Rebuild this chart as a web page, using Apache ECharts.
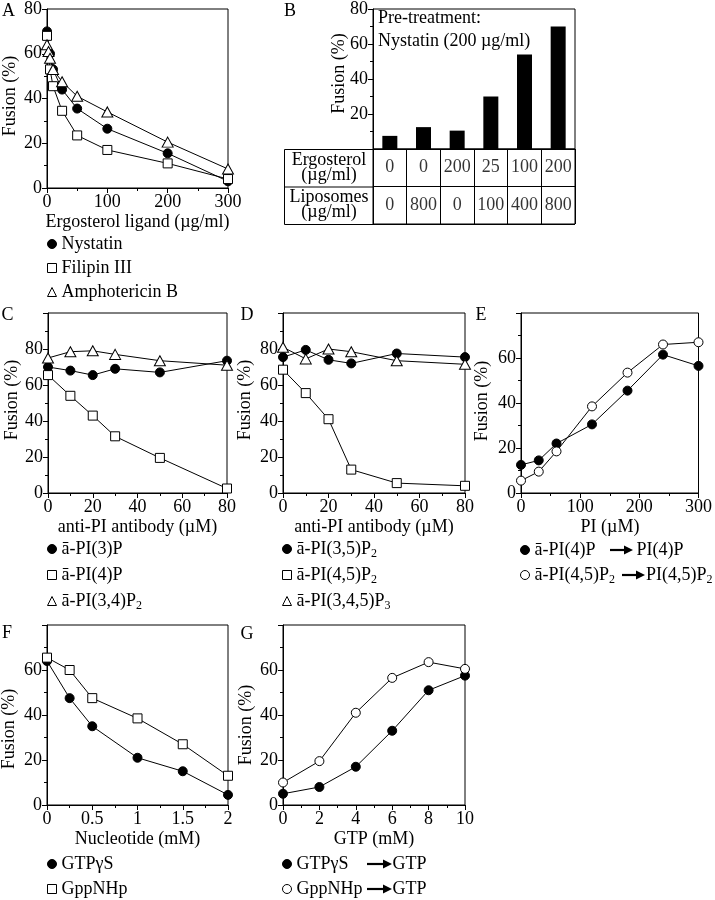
<!DOCTYPE html>
<html><head><meta charset="utf-8">
<script src="https://cdn.jsdelivr.net/npm/echarts@6/dist/echarts.min.js"></script>
<style>html,body{margin:0;padding:0;background:#fff}#c{width:715px;height:900px}</style>
</head><body><div id="c"></div>
<script>
// ---------- DATA ----------
// Panel A: [ergosterol ligand (µg/ml), fusion %]
const aNystatin = [[0,70],[5,60],[10,53],[25,44],[50,35.5],[100,26.5],[200,15.5],[300,3]];
const aFilipin  = [[0,68],[5,53],[10,45.5],[25,34.5],[50,23.5],[100,17],[200,11],[300,4]];
const aAmpho    = [[0,64],[2.5,61],[5,58],[10,53],[25,47.5],[50,41],[100,34],[200,20.5],[300,8.5]];
const aNames = ['Nystatin','Filipin III','Amphotericin B'];
// Panel B
const bFusion     = [7.5,12.5,10.5,30,54,70];
const bErgosterol = ['0','0','200','25','100','200'];
const bLiposomes  = ['0','800','0','100','400','800'];
const bRowKeys    = ['Ergosterol','Liposomes'];
const bRowHeaders = ['Ergosterol\n(µg/ml)','Liposomes\n(µg/ml)'];
const bNote       = ['Pre-treatment:','Nystatin (200 µg/ml)'];
// Panel C: [anti-PI antibody (µM), fusion %]
const cPI3P    = [[0,70],[10,68],[20,65.5],[30,69],[50,67],[80,73.5]];
const cPI4P    = [[0,65.5],[10,54],[20,43],[30,31.5],[50,19.5],[80,2.5]];
const cPI34P2  = [[0,75],[10,78.5],[20,79],[30,77],[50,73.5],[80,71]];
const cNames = ['ā-PI(3)P','ā-PI(4)P','ā-PI(3,4)P_2'];
// Panel D
const dPI35P2  = [[0,75.5],[10,79.5],[20,74],[30,72],[50,77.5],[80,75.5]];
const dPI45P2  = [[0,68.5],[10,55.5],[20,41],[30,13],[50,5.5],[80,4]];
const dPI345P3 = [[0,81],[10,74.5],[20,80],[30,78.5],[50,73.5],[80,71.5]];
const dNames = ['ā-PI(3,5)P_2','ā-PI(4,5)P_2','ā-PI(3,4,5)P_3'];
// Panel E: [PI (µM), fusion %]
const ePI4P   = [[0,12.5],[30,14.5],[60,22],[120,30.5],[180,45.5],[240,61.5],[300,56.5]];
const ePI45P2 = [[0,5.5],[30,9.5],[60,18.5],[120,38.5],[180,53.5],[240,66],[300,67]];
const eSources = ['ā-PI(4)P','ā-PI(4,5)P_2'];
const eTargets = ['PI(4)P','PI(4,5)P_2'];
// Panel F: [nucleotide (mM), fusion %]
const fGTPgS  = [[0,64],[0.25,47.5],[0.5,35],[1,21],[1.5,15],[2,4.5]];
const fGppNHp = [[0,65.5],[0.25,60],[0.5,47.5],[1,38.5],[1.5,27],[2,13]];
const fNames = ['GTPγS','GppNHp'];
// Panel G: [GTP (mM), fusion %]
const gGTPgS  = [[0,5],[2,8],[4,17],[6,33],[8,51],[10,57.5]];
const gGppNHp = [[0,10],[2,19.5],[4,41],[6,56.5],[8,63.5],[10,60.5]];
const gSources = ['GTPγS','GppNHp'];
const gTargets = ['GTP','GTP'];
// Text
const panelLetters = ['A','B','C','D','E','F','G'];
const yName = 'Fusion (%)';
const xNames = ['Ergosterol ligand (µg/ml)', null, 'anti-PI antibody (µM)', 'anti-PI antibody (µM)', 'PI (µM)', 'Nucleotide (mM)', 'GTP (mM)'];

// ---------- LAYOUT ----------
const FONT = '"Liberation Serif", "Times New Roman", serif';
const FONT18 = '18px ' + FONT;
const SEP = ' → ';
const grids = [
  {left:47, top:8, width:181, height:180},   // A
  {left:373, top:8, width:202, height:141},  // B bars
  {left:48, top:313, width:179, height:180}, // C
  {left:283, top:313, width:182, height:180},// D
  {left:521, top:313, width:178, height:180},// E
  {left:47, top:625, width:181, height:180}, // F
  {left:283, top:625, width:182, height:180},// G
  {left:373, top:149, width:202, height:75}  // B table
].map(g => Object.assign({show:true, borderColor:'#000', borderWidth:1, containLabel:false}, g));

const letterPos = [[8.5,11],[290,11],[7.5,315],[247,315],[481,315],[7,633],[247,634]];
// y-title: [distance left of axis, vertical shift from plot centre]
const yTitleOff = [[37,-2],[34,-5],[36,-3],[38,-3],[39,-2],[38,14],[37,10]];
const xTitleGap = 34;
// legend arrows: [tail x, tip x, y]
const arrowPos = [[610,633,550],[622,645,575],[367,392,864],[367,392,889]];

const TXT = {color:'#000', fontFamily:FONT, fontSize:18, fontWeight:'normal', fontStyle:'normal'};

function valueAxis(gi, min, max, interval, hide) {
  return {
    type:'value', gridIndex:gi, min, max, interval,
    axisLine:{show:true, onZero:false, lineStyle:{color:'#000', width:1}},
    axisTick:{show:true, length:5, lineStyle:{color:'#000'}},
    minorTick:{show:true, splitNumber:2, length:3, lineStyle:{color:'#000'}},
    splitLine:{show:false},
    axisLabel:Object.assign({margin:5, showMinLabel:true, showMaxLabel:true,
      formatter: v => (hide !== undefined && v === hide) ? '' : String(v)}, TXT)
  };
}

const bCategories = bErgosterol.map((e,i) => e + '/' + bLiposomes[i]);

const xAxes = [
  valueAxis(0, 0, 300, 100),
  {type:'category', gridIndex:1, data:bCategories, axisLine:{show:true, lineStyle:{color:'#000'}}, axisTick:{show:false}, axisLabel:{show:false}},
  valueAxis(2, 0, 80, 20),
  valueAxis(3, 0, 80, 20),
  valueAxis(4, 0, 300, 100),
  valueAxis(5, 0, 2, 0.5),
  valueAxis(6, 0, 10, 2),
  {type:'category', gridIndex:7, data:bCategories, axisLine:{show:false}, axisTick:{show:false}, axisLabel:{show:false},
    splitLine:{show:true, interval:0, lineStyle:{color:'#000', width:1}}}
];
const yAxes = [
  valueAxis(0, 0, 80, 20),
  valueAxis(1, 0, 80, 20, 0),
  valueAxis(2, 0, 100, 20, 100),
  valueAxis(3, 0, 100, 20, 100),
  valueAxis(4, 0, 80, 20, 80),
  valueAxis(5, 0, 80, 20, 80),
  valueAxis(6, 0, 80, 20, 80),
  {type:'category', gridIndex:7, data:bRowKeys, inverse:true, axisLine:{show:false}, axisTick:{show:false},
    splitLine:{show:true, interval:0, lineStyle:{color:'#000', width:1}},
    axisLabel:Object.assign({lineHeight:15, align:'center', margin:44, formatter:(v,i) => bRowHeaders[i]}, TXT)}
];

const WHITE = {color:'#fff', borderColor:'#000', borderWidth:1};
const BLACK = {color:'#000', borderColor:'#000', borderWidth:1};
const MARK = {
  dot:   {symbol:'circle', symbolSize:9, itemStyle:BLACK},
  ring:  {symbol:'circle', symbolSize:9, itemStyle:WHITE},
  box:   {symbol:'rect', symbolSize:9, itemStyle:WHITE},
  tri:   {symbol:'triangle', symbolSize:[11,10], itemStyle:WHITE}
};
function lineSeries(name, data, gi, m) {
  return {type:'line', name, data, xAxisIndex:gi, yAxisIndex:gi,
    symbol:m.symbol, symbolSize:m.symbolSize, showAllSymbol:true,
    itemStyle:Object.assign({}, m.itemStyle), lineStyle:{color:'#000', width:1},
    emphasis:{disabled:true}, animation:false, clip:false};
}
const eNames = eSources.map((s,i) => s + SEP + eTargets[i]);
const gNames = gSources.map((s,i) => s + SEP + gTargets[i]);

const tableData = [];
bRowKeys.forEach((rk, r) => {
  const vals = r === 0 ? bErgosterol : bLiposomes;
  vals.forEach((v, i) => tableData.push([bCategories[i], rk, v]));
});

const series = [
  lineSeries(aNames[0], aNystatin, 0, MARK.dot),
  lineSeries(aNames[1], aFilipin, 0, MARK.box),
  lineSeries(aNames[2], aAmpho, 0, MARK.tri),
  {type:'bar', name:'B', data:bFusion, xAxisIndex:1, yAxisIndex:1, barWidth:15, itemStyle:{color:'#000'}, emphasis:{disabled:true}},
  lineSeries(cNames[0], cPI3P, 2, MARK.dot),
  lineSeries(cNames[1], cPI4P, 2, MARK.box),
  lineSeries(cNames[2], cPI34P2, 2, MARK.tri),
  lineSeries(dNames[0], dPI35P2, 3, MARK.dot),
  lineSeries(dNames[1], dPI45P2, 3, MARK.box),
  lineSeries(dNames[2], dPI345P3, 3, MARK.tri),
  lineSeries(eNames[0], ePI4P, 4, MARK.dot),
  lineSeries(eNames[1], ePI45P2, 4, MARK.ring),
  lineSeries(fNames[0], fGTPgS, 5, MARK.dot),
  lineSeries(fNames[1], fGppNHp, 5, MARK.box),
  lineSeries(gNames[0], gGTPgS, 6, MARK.dot),
  lineSeries(gNames[1], gGppNHp, 6, MARK.ring),
  {type:'scatter', name:'table', data:tableData, xAxisIndex:7, yAxisIndex:7, symbolSize:1,
    itemStyle:{color:'rgba(0,0,0,0)'}, emphasis:{disabled:true},
    label:Object.assign({show:true, position:'inside', formatter:p => p.data[2]}, TXT)}
];

const RICH = {
  n:   {fontFamily:FONT, fontSize:18, lineHeight:22, color:'#000'},
  sub: {fontFamily:FONT, fontSize:12, lineHeight:12, verticalAlign:'bottom', color:'#000'},
  ar:  {fontFamily:FONT, fontSize:18, lineHeight:22, width:25},
  arL: {fontFamily:FONT, fontSize:18, lineHeight:22, width:31},
  wE:  {fontFamily:FONT, fontSize:18, lineHeight:22, color:'#000', width:77},
  wG:  {fontFamily:FONT, fontSize:18, lineHeight:22, color:'#000', width:71}
};
function richName(s) {
  return s.split(/_(\d)/).map((p,i) => i % 2 ? '{sub|' + p + '}' : (p ? '{n|' + p + '}' : '')).join('');
}
function makeFmt(wTok) {
  return name => {
    if (name.indexOf(SEP) >= 0) {
      const parts = name.split(SEP);
      const head = parts[0].indexOf('_') >= 0 ? richName(parts[0]) + '{arL| }' : '{' + wTok + '|' + parts[0] + '}{ar| }';
      return head + richName(parts[1]);
    }
    return richName(name);
  };
}
function legend(names, marks, left, top, gap, wTok) {
  return {data:names.map((n,i) => ({name:n, icon:marks[i].symbol, itemStyle:Object.assign({}, marks[i].itemStyle)})),
    left, top, orient:'vertical', itemGap:gap, itemWidth:9, itemHeight:9, padding:0,
    selectedMode:false, inactiveColor:'#000',
    textStyle:Object.assign({lineHeight:22, rich:RICH}, TXT),
    formatter: makeFmt(wTok || 'n')};
}

const graphics = [];
function txt(t, x, y, align, rotation) {
  graphics.push({type:'text', x, y, rotation: rotation || 0,
    style:{text:t, fill:'#000', font:FONT18, textAlign:align, textVerticalAlign:'middle', align:align, verticalAlign:'middle'}});
}
panelLetters.forEach((t,i) => txt(t, letterPos[i][0], letterPos[i][1], 'center'));
bNote.forEach((t,i) => txt(t, 378, 18 + i*23, 'left'));
// axis titles placed relative to each plot area
for (let gi = 0; gi < 7; gi++) {
  const g = grids[gi];
  txt(yName, g.left - yTitleOff[gi][0], g.top + g.height/2 + yTitleOff[gi][1], 'center', Math.PI/2);
  if (xNames[gi]) txt(xNames[gi], g.left + g.width/2, g.top + g.height + xTitleGap, 'center');
}
// table header column frame
const T = grids[7];
const hdrLeft = 284;
graphics.push({type:'rect', shape:{x:hdrLeft+0.5, y:T.top+0.5, width:T.left-hdrLeft, height:T.height}, style:{fill:'none', stroke:'#000', lineWidth:1}});
graphics.push({type:'line', shape:{x1:hdrLeft, y1:T.top+T.height/2+0.5, x2:T.left, y2:T.top+T.height/2+0.5}, style:{stroke:'#000', lineWidth:1}});
// legend arrows
arrowPos.forEach(([x1,x2,y]) => {
  graphics.push({type:'line', shape:{x1:x1, y1:y, x2:x2-6, y2:y}, style:{stroke:'#000', lineWidth:2.2}});
  graphics.push({type:'polygon', shape:{points:[[x2-9,y-4.5],[x2,y],[x2-9,y+4.5]]}, style:{fill:'#000'}});
});

const option = {
  animation:false,
  backgroundColor:'#fff',
  textStyle:{fontFamily:FONT, color:'#000'},
  grid: grids,
  xAxis: xAxes,
  yAxis: yAxes,
  legend: [
    legend(aNames, [MARK.dot, MARK.box, MARK.tri], 47, 233, 2),
    legend(cNames, [MARK.dot, MARK.box, MARK.tri], 47, 538, 4),
    legend(dNames, [MARK.dot, MARK.box, MARK.tri], 282, 538, 4),
    legend(eNames, [MARK.dot, MARK.ring], 520, 539, 3, 'wE'),
    legend(fNames, [MARK.dot, MARK.box], 47, 853, 3),
    legend(gNames, [MARK.dot, MARK.ring], 282, 853, 3, 'wG')
  ],
  series,
  graphic: graphics
};
const chart = echarts.init(document.getElementById('c'));
chart.setOption(option);
</script></body></html>
